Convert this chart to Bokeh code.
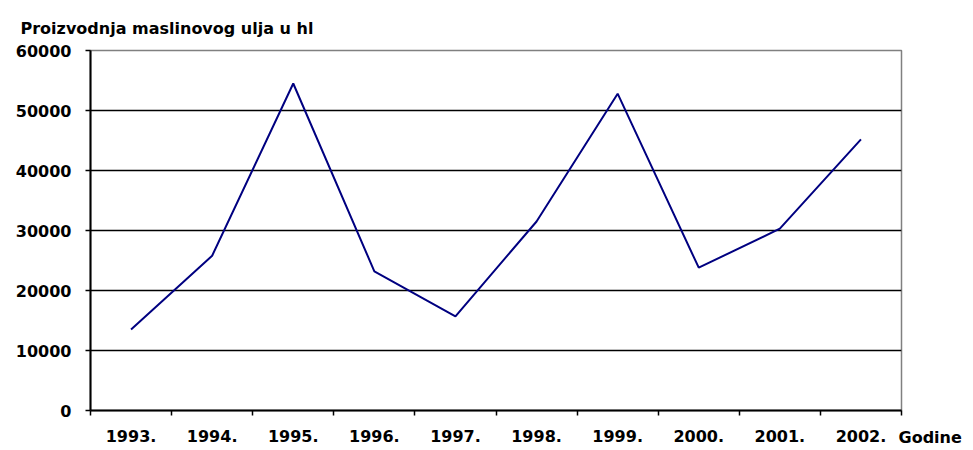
from bokeh.plotting import figure
from bokeh.models import Range1d, FixedTicker, Label, NumeralTickFormatter
from bokeh.embed import file_html
from bokeh.resources import INLINE

title_text = "Proizvodnja maslinovog ulja u hl"
x_title = "Godine"
years = ["1993.", "1994.", "1995.", "1996.", "1997.", "1998.", "1999.", "2000.", "2001.", "2002."]
production = [13500, 25800, 54500, 23200, 15700, 31500, 52800, 23800, 30300, 45200]
y_ticks = [0, 10000, 20000, 30000, 40000, 50000, 60000]

FONT = "DejaVu Sans"
FS = "16px"
STYLE = "bold"

x_pos = [i + 0.5 for i in range(len(years))]
x_bounds = [i for i in range(len(years) + 1)]

p = figure(width=965, height=450, output_backend="svg", toolbar_location=None,
           x_range=Range1d(0, len(years)), y_range=Range1d(y_ticks[0], y_ticks[-1]),
           min_border_left=90, min_border_right=64, min_border_top=50, min_border_bottom=40,
           background_fill_color="white", border_fill_color="white")

p.line(x_pos, production, line_color="#000080", line_width=2)

xa = p.xaxis[0]
xa.ticker = FixedTicker(ticks=x_pos, minor_ticks=x_bounds)
xa.major_label_overrides = {x: lbl for x, lbl in zip(x_pos, years)}
xa.major_tick_line_color = None
xa.minor_tick_line_color = "black"
xa.minor_tick_line_width = 1.5
xa.minor_tick_out = 5
xa.minor_tick_in = 0
xa.axis_line_color = "black"
xa.axis_line_width = 2
xa.major_label_text_font = FONT
xa.major_label_text_font_size = FS
xa.major_label_text_font_style = STYLE
xa.major_label_text_color = "black"
xa.major_label_standoff = 13

ya = p.yaxis[0]
ya.ticker = FixedTicker(ticks=y_ticks)
ya.formatter = NumeralTickFormatter(format="0")
ya.major_tick_out = 5
ya.major_tick_in = 0
ya.major_tick_line_width = 1.5
ya.minor_tick_line_color = None
ya.axis_line_color = "black"
ya.axis_line_width = 2
ya.major_label_text_font = FONT
ya.major_label_text_font_size = FS
ya.major_label_text_font_style = STYLE
ya.major_label_text_color = "black"
ya.major_label_standoff = 14

p.xgrid.visible = False
p.ygrid.ticker = FixedTicker(ticks=y_ticks[1:-1])
p.ygrid.grid_line_color = "black"
p.ygrid.grid_line_width = 1.5

p.outline_line_color = "#808080"
p.outline_line_width = 1.5

chart_title = Label(x=0, y=y_ticks[-1], x_offset=-70, y_offset=22,
                    text=title_text, text_baseline="alphabetic",
                    text_font=FONT, text_font_size=FS,
                    text_font_style=STYLE, text_color="black")
p.add_layout(chart_title, "above")

godine = Label(x=len(years), y=-6000, x_offset=-3,
               text=x_title, text_font=FONT, text_font_size=FS,
               text_font_style=STYLE, text_color="black")
p.add_layout(godine, "right")

open("out.html", "w").write(file_html(p, INLINE))
